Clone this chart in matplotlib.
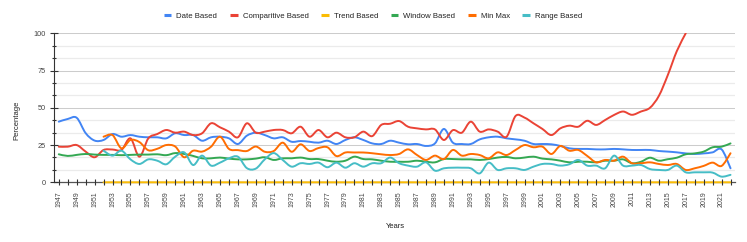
import matplotlib
matplotlib.use("Agg")
import matplotlib.pyplot as plt
from matplotlib.path import Path
from matplotlib.patches import PathPatch
from matplotlib.lines import Line2D

plt.rcParams['font.family'] = ['Liberation Sans', 'DejaVu Sans']

years_all = list(range(1947, 2023))
years_from_1952 = list(range(1952, 2023))
years_comp = list(range(1947, 2018))

date_based = [40.7, 42.5, 43.3, 33.0, 28.0, 28.4, 32.4, 30.6, 31.7, 30.6,
              30.2, 30.2, 29.5, 32.9, 31.7, 31.7, 27.9, 30.2, 30.6, 29.5,
              25.7, 31.3, 33.3, 31.7, 29.5, 30.2, 27.2, 27.7, 27.2, 26.6,
              27.9, 25.7, 28.4, 30.2, 28.4, 26.1, 25.7, 27.9, 26.6, 25.5,
              25.7, 24.4, 26.1, 35.8, 26.6, 25.7, 25.7, 28.8, 30.2, 30.6,
              29.5, 28.8, 27.9, 25.7, 25.7, 25.5, 24.4, 22.8, 22.4, 22.4,
              22.1, 22.1, 22.4, 22.1, 21.7, 21.7, 21.7, 21.0, 20.6, 20.1,
              19.4, 19.0, 19.4, 20.1, 22.1, 9.4]

comparitive_based = [23.9, 23.9, 25.0, 20.6, 16.8, 21.7, 22.0, 21.7, 29.5, 17.2,
                     29.5, 32.4, 35.1, 33.3, 34.0, 31.7, 32.9, 39.6, 36.9, 34.0,
                     30.2, 39.6, 33.3, 34.0, 35.1, 35.1, 32.9, 37.3, 30.6, 35.1,
                     30.2, 33.3, 30.2, 30.2, 34.0, 31.0, 38.5, 39.3, 41.1, 37.3,
                     36.2, 35.5, 35.5, 28.4, 35.0, 33.3, 40.7, 34.0, 35.5, 34.0,
                     30.6, 44.5, 43.4, 39.6, 35.8, 31.7, 36.2, 38.0, 37.3, 41.3,
                     38.5, 41.8, 45.2, 47.5, 45.3, 47.5, 50.0, 58.0, 72.0, 88.0,
                     100.0]

trend_based = [0, 0, 0, 0, 0, 0, 0, 0, 0, 0,
               0, 0, 0, 0, 0, 0, 0, 0, 0, 0,
               0, 0, 0, 0, 0, 0, 0, 0, 0, 0,
               0, 0, 0, 0, 0, 0, 0, 0, 0, 0,
               0, 0, 0, 0, 0, 0, 0, 0, 0, 0,
               0, 0, 0, 0, 0, 0, 0, 0, 0, 0,
               0, 0, 0, 0, 0, 0, 0, 0, 0, 0,
               0]

window_based = [18.8, 17.7, 18.4, 19.0, 18.6, 18.4, 18.4, 18.2, 18.4, 18.6,
                18.6, 18.8, 18.2, 19.6, 19.0, 17.7, 16.1, 16.1, 16.6, 15.9,
                15.4, 15.4, 15.9, 16.8, 15.0, 16.1, 16.1, 16.6, 15.6, 15.6,
                14.5, 13.8, 14.5, 17.2, 15.6, 15.4, 14.5, 13.8, 13.8, 13.8,
                14.5, 13.8, 13.4, 15.6, 15.6, 15.4, 15.4, 15.0, 15.6, 16.6,
                17.0, 16.1, 16.6, 17.2, 15.9, 15.4, 14.5, 13.4, 13.8, 13.8,
                13.4, 14.5, 14.5, 15.4, 12.8, 13.8, 16.5, 14.5, 15.5, 16.5,
                18.8, 19.4, 20.6, 23.5, 23.9, 26.1]

min_max = [30.6, 31.7, 22.8, 28.4, 27.0, 21.5, 22.5, 25.0, 24.0, 16.8,
           21.2, 20.6, 23.9, 30.6, 22.4, 21.6, 21.0, 24.0, 20.5, 21.0,
           26.6, 20.5, 25.5, 21.0, 23.0, 23.5, 17.6, 20.0, 20.0, 20.0,
           19.5, 18.8, 18.3, 19.0, 22.1, 18.3, 15.0, 17.9, 15.6, 21.7,
           17.9, 19.0, 18.3, 16.1, 20.1, 18.3, 21.7, 25.0, 23.5, 23.9,
           19.0, 24.4, 21.2, 21.7, 17.7, 13.4, 15.0, 14.5, 17.2, 12.8,
           12.8, 13.4, 12.3, 11.6, 12.3, 8.3, 9.4, 11.0, 13.2, 11.0,
           19.5]

range_based = [21.2, 17.9, 21.2, 15.4, 12.3, 15.4, 14.5, 12.1, 17.2, 20.1,
               11.6, 17.9, 11.2, 13.2, 16.1, 17.2, 9.5, 9.2, 15.4, 19.6,
               15.0, 10.5, 12.8, 12.3, 13.2, 10.1, 13.2, 9.8, 12.8, 10.5,
               12.8, 12.8, 16.6, 12.8, 11.2, 10.5, 13.4, 7.8, 9.4, 9.8,
               9.8, 9.4, 6.0, 13.2, 8.3, 9.4, 9.4, 8.3, 10.5, 12.3,
               12.3, 11.2, 12.1, 15.0, 11.2, 11.2, 9.4, 17.9, 11.2, 11.2,
               11.6, 8.9, 8.3, 8.3, 11.2, 6.7, 6.7, 6.7, 6.5, 3.8,
               5.0]

series = [
    ("Date Based", years_all, date_based, "#4285F4"),
    ("Comparitive Based", years_comp, comparitive_based, "#EA4335"),
    ("Trend Based", years_from_1952, trend_based, "#FBBC04"),
    ("Window Based", years_all, window_based, "#34A853"),
    ("Min Max", years_from_1952, min_max, "#FF6D01"),
    ("Range Based", years_from_1952, range_based, "#46BDC6"),
]


def smooth_path(xs, ys, t=1.0 / 6.0):
    n = len(xs)
    verts = [(xs[0], ys[0])]
    codes = [Path.MOVETO]
    for i in range(n - 1):
        a = i - 1 if i > 0 else i
        d = i + 2 if i + 2 < n else i + 1
        c1 = (xs[i] + (xs[i + 1] - xs[a]) * t, ys[i] + (ys[i + 1] - ys[a]) * t)
        c2 = (xs[i + 1] - (xs[d] - xs[i]) * t, ys[i + 1] - (ys[d] - ys[i]) * t)
        verts += [c1, c2, (xs[i + 1], ys[i + 1])]
        codes += [Path.CURVE4] * 3
    return Path(verts, codes)


fig = plt.figure(figsize=(7.47, 2.42), dpi=100)
ax = fig.add_axes([54.3 / 747, 1 - 182.3 / 242, (735 - 54.3) / 747, (182.3 - 33.3) / 242])
ax.set_xlim(1946.5, 2022.5)
ax.set_ylim(0, 100)

major_y = [0, 25, 50, 75, 100]
minor_y = [100 / 12 * k for k in range(1, 12) if k % 3 != 0]
for v in major_y[1:]:
    ax.axhline(v, color="#cccccc", lw=0.75, zorder=0.5)
for v in minor_y:
    ax.axhline(v, color="#ebebeb", lw=0.9, zorder=0.4)

for i, (name, xs, ys, col) in enumerate(series):
    p = PathPatch(smooth_path(xs, ys), fill=False, edgecolor=col, lw=1.4,
                  capstyle="round", joinstyle="round", zorder=2 + i * 0.01)
    if name == "Trend Based":
        p.set_clip_on(False)
    ax.add_patch(p)

ax.axhline(0, color="#555555", lw=0.9, zorder=1.9, clip_on=False)
ax.set_axisbelow(False)

for s in ["top", "right", "bottom"]:
    ax.spines[s].set_visible(False)
ax.spines["left"].set_color("#333333")
ax.spines["left"].set_linewidth(0.8)

ax.set_yticks(major_y)
ax.set_yticklabels([str(v) for v in major_y])
ax.set_yticks(minor_y, minor=True)
ax.tick_params(axis="y", which="major", direction="inout", length=5.8, width=0.8,
               color="#333333", labelsize=5.3, labelcolor="#444444", pad=3.0)
ax.tick_params(axis="y", which="minor", direction="inout", length=3.2, width=0.8,
               color="#333333")

ax.set_xticks(years_all)
ax.set_xticklabels([str(y) if (y - 1947) % 2 == 0 else "" for y in years_all],
                   rotation=90)
ax.tick_params(axis="x", which="major", direction="inout", length=4.3, width=0.8,
               color="#333333", labelsize=5.0, labelcolor="#444444", pad=4.3)

fig.text(17 / 747, 1 - 120 / 242, "Percentage", rotation=90, ha="center", va="center",
         fontsize=5.5, color="#222222")
fig.text(395 / 747, 1 - 226 / 242, "Years", ha="center", va="center",
         fontsize=5.5, color="#222222")

handles = [Line2D([], [], color=c, lw=2.2, solid_capstyle="butt") for _, _, _, c in series]
labels = [n for n, _, _, _ in series]
leg = fig.legend(handles, labels, loc="center", bbox_to_anchor=(373 / 747, 1 - 16 / 242),
                 ncol=6, frameon=False, fontsize=5.6, handlelength=1.0,
                 handletextpad=0.65, columnspacing=1.6, borderaxespad=0)
for t in leg.get_texts():
    t.set_color("#222222")

fig.savefig("out.png", dpi=100)
